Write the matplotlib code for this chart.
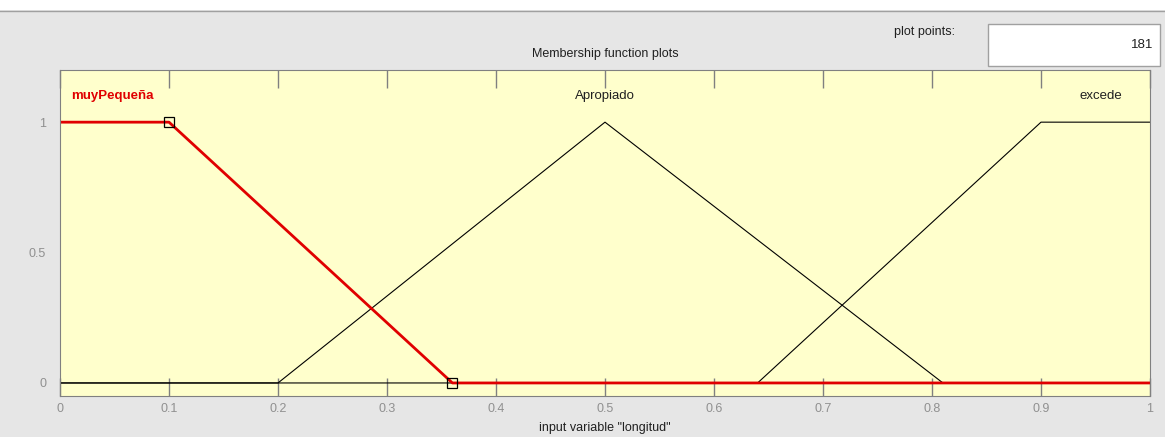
import matplotlib.pyplot as plt
from matplotlib.patches import Rectangle

# funciones de pertenencia (puntos de quiebre)
mf_nombres = ['muyPequeña', 'Apropiado', 'excede']
mf_x = [[0, 0.1, 0.36, 1], [0, 0.2, 0.5, 0.81, 1], [0, 0.64, 0.9, 1]]
mf_y = [[1, 1, 0, 0], [0, 0, 1, 0, 0], [0, 0, 1, 1]]
etiqueta_x = [0.01, 0.5, 0.955]
xticks = [0, 0.1, 0.2, 0.3, 0.4, 0.5, 0.6, 0.7, 0.8, 0.9, 1]
yticks = [0, 0.5, 1]
puntos = 181

W, H = 1165, 437
fig = plt.figure(figsize=(W / 100, H / 100), dpi=100)
fig.patch.set_facecolor('#e6e6e6')
plt.rcParams['font.family'] = ['Liberation Sans', 'DejaVu Sans']

# franja blanca superior
fig.patches.append(Rectangle((0, 1 - 10 / H), 1, 10 / H, transform=fig.transFigure,
                             facecolor='white', edgecolor='none'))
fig.lines.append(plt.Line2D([0, 1], [1 - 11 / H] * 2, transform=fig.transFigure,
                            color='#a0a0a0', lw=1))

ax = fig.add_axes([60 / W, 1 - 396 / H, 1090 / W, 326 / H])
ax.set_facecolor('#ffffcc')
ax.set_xlim(0, 1)
ax.set_ylim(-0.05, 1.2)

# primero las negras, luego la seleccionada en rojo
for i in [1, 2]:
    ax.plot(mf_x[i], mf_y[i], color='black', lw=0.8)
ax.plot(mf_x[0], mf_y[0], color='#e00000', lw=2.0)
ax.plot(mf_x[0][1:3], mf_y[0][1:3], ls='none', marker='s', ms=7,
        mfc='none', mec='black', mew=0.9)

for i, nombre in enumerate(mf_nombres):
    if i == 0:
        ax.text(etiqueta_x[i], 1.1, nombre, color='#e00000', fontweight='bold',
                fontsize=9.5, ha='left', va='center')
    else:
        ax.text(etiqueta_x[i], 1.1, nombre, color='#202020', fontsize=9.5,
                ha='center', va='center')

ax.set_xticks(xticks)
ax.set_xticklabels([f'{t:g}' for t in xticks])
ax.set_yticks(yticks)
ax.set_yticklabels([f'{t:g}' for t in yticks])
ax.tick_params(axis='x', direction='in', length=13, top=True, color='#808080',
               labelcolor='#909090', labelsize=9, pad=5, width=1)
ax.tick_params(axis='y', length=0, labelcolor='#909090', labelsize=9, pad=10)
for s in ax.spines.values():
    s.set_color('#808080')

fig.text(605 / W, 1 - 54 / H, 'Membership function plots', ha='center', va='center',
         fontsize=9, color='#202020')
fig.text(605 / W, 1 - 428 / H, 'input variable "longitud"', ha='center', va='center',
         fontsize=9, color='#202020')
fig.text(955 / W, 1 - 32 / H, 'plot points:', ha='right', va='center',
         fontsize=9, color='#202020')
fig.patches.append(Rectangle((988 / W, 1 - 66 / H), 172 / W, 42 / H,
                             transform=fig.transFigure, facecolor='white',
                             edgecolor='#a0a0a0', lw=1))
fig.text(1153 / W, 1 - 45 / H, str(puntos), ha='right', va='center',
         fontsize=9.5, color='#202020')

fig.savefig('out.png', dpi=100, facecolor=fig.get_facecolor())
